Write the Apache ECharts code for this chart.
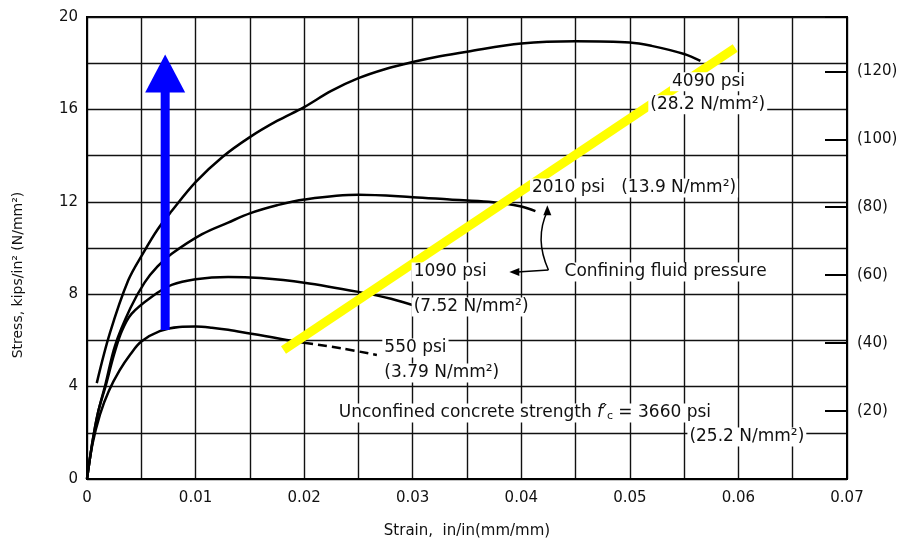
<!DOCTYPE html>
<html>
<head>
<meta charset="utf-8">
<script src="https://cdn.jsdelivr.net/npm/echarts@6/dist/echarts.min.js"></script>
<style>
  html, body { margin: 0; background: #fff; }
  #chart { width: 914px; height: 546px; }
</style>
</head>
<body>
<div id="chart"></div>
<script>
// axis labels
const strainLabels = [0, 0.01, 0.02, 0.03, 0.04, 0.05, 0.06, 0.07];
const stressLabels = [0, 4, 8, 12, 16, 20];
const mpaLabels = [20, 40, 60, 80, 100, 120];
const MPA_AXIS_MAX = 136; // right-hand scale as printed on the figure

// stress-strain curves [strain, ksi]
const curve4090 = [[0.0009, 4.15], [0.0021, 6.3], [0.0038, 8.6], [0.0052, 9.8], [0.0065, 10.8],
  [0.0078, 11.6], [0.01, 12.85], [0.0125, 13.95], [0.015, 14.8], [0.0175, 15.5], [0.02, 16.1],
  [0.0225, 16.8], [0.025, 17.35], [0.0275, 17.75], [0.03, 18.05], [0.0325, 18.3], [0.035, 18.5],
  [0.04, 18.85], [0.045, 18.95], [0.05, 18.9], [0.052, 18.75], [0.055, 18.4], [0.0565, 18.1]];
const curve2010 = [[0, 0], [0.0005, 1.6], [0.001, 2.85], [0.0017, 4.1], [0.0026, 5.8], [0.004, 7.4],
  [0.0053, 8.5], [0.0065, 9.2], [0.0078, 9.75], [0.0106, 10.6], [0.013, 11.1], [0.015, 11.5],
  [0.0175, 11.85], [0.02, 12.1], [0.025, 12.3], [0.03, 12.2], [0.0334, 12.1], [0.037, 12.0],
  [0.04, 11.8], [0.0413, 11.6]];
const curve1090 = [[0, 0], [0.0005, 1.6], [0.001, 2.85], [0.0017, 4.0], [0.0025, 5.4], [0.0032, 6.4],
  [0.0041, 7.15], [0.006, 7.9], [0.0078, 8.4], [0.01, 8.65], [0.013, 8.75], [0.016, 8.7],
  [0.02, 8.5], [0.025, 8.1], [0.028, 7.8], [0.0305, 7.45]];
const curve550 = [[0, 0], [0.0005, 1.5], [0.0012, 2.8], [0.002, 3.8], [0.003, 4.7], [0.004, 5.4],
  [0.005, 5.95], [0.0067, 6.4], [0.0085, 6.58], [0.01, 6.6], [0.0115, 6.55], [0.013, 6.46],
  [0.015, 6.3], [0.0165, 6.18], [0.018, 6.05], [0.02, 5.9]];
const curve550Dashed = [[0.02, 5.9], [0.0235, 5.65], [0.0267, 5.37]];

// overlays
const blueShaft = [[0.0072, 6.45], [0.0072, 16.9]];
const blueHead = [[0.0072, 17.55]];
const yellowLine = [[0.0181, 5.58], [0.0597, 18.66]];

// annotation text anchors [strain, ksi]
const notes = [
  { text: '4090 psi', at: [0.0537, 17.2] },
  { text: '(28.2 N/mm²)', at: [0.0517, 16.2] },
  { text: '2010 psi   (13.9 N/mm²)', at: [0.0408, 12.6] },
  { text: 'Confining fluid pressure', at: [0.0438, 8.96] },
  { text: '1090 psi', at: [0.0299, 8.96] },
  { text: '(7.52 N/mm²)', at: [0.0299, 7.45] },
  { text: '550 psi', at: [0.0272, 5.67] },
  { text: '(3.79 N/mm²)', at: [0.0272, 4.59] },
  { text: 'Unconfined concrete strength {it|f′}{sub|c} = 3660 psi', at: [0.0230, 2.86] },
  { text: '(25.2 N/mm²)', at: [0.0553, 1.82] }
];
const arrowJoin = [0.0425, 9.05];
const arrowUpTip = [0.0424, 11.85];
const arrowCtrl = [0.0412, 10.4];
const arrowLeftTip = [0.0389, 8.96];

const font = '"DejaVu Sans", Verdana, sans-serif';
const chart = echarts.init(document.getElementById('chart'));

function curve(data, dashed) {
  return {
    type: 'line', data: data, symbol: 'none', smooth: 0.35, z: 3,
    lineStyle: { color: '#000', width: 2.5, type: dashed ? [9, 5] : 'solid' }
  };
}

chart.setOption({
  animation: false,
  backgroundColor: '#fff',
  grid: { left: 87, right: 67, top: 17, bottom: 67, show: true, borderColor: '#000', borderWidth: 2 },
  xAxis: {
    type: 'value', min: 0, max: 0.07, interval: 0.005,
    axisLine: { lineStyle: { color: '#000', width: 2 } },
    axisTick: { show: false },
    splitLine: { lineStyle: { color: '#111', width: 1.4 } },
    axisLabel: {
      color: '#111', fontSize: 15, fontFamily: font, margin: 12,
      formatter: (v) => {
        const k = Math.round(v * 1000);
        if (k % 10 !== 0) return '';
        return k === 0 ? '0' : (k / 1000).toFixed(2);
      }
    },
    name: 'Strain,  in/in(mm/mm)', nameLocation: 'middle', nameGap: 45,
    nameTextStyle: { color: '#111', fontSize: 15, fontFamily: font }
  },
  yAxis: [
    {
      type: 'value', min: 0, max: 20, interval: 2,
      axisLine: { show: true, lineStyle: { color: '#000', width: 2 } },
      axisTick: { show: false },
      splitLine: { lineStyle: { color: '#111', width: 1.4 } },
      axisLabel: {
        color: '#111', fontSize: 15, fontFamily: font, margin: 9,
        formatter: (v) => stressLabels.includes(v) ? String(v) : ''
      }
    },
    {
      type: 'value', position: 'right', min: 0, max: MPA_AXIS_MAX, interval: 20,
      axisLine: { show: true, lineStyle: { color: '#000', width: 2 } },
      axisTick: { show: true, inside: true, length: 22, lineStyle: { color: '#000', width: 2 } },
      splitLine: { show: false },
      axisLabel: {
        color: '#111', fontSize: 15, fontFamily: font, margin: 10,
        formatter: (v) => mpaLabels.includes(v) ? '(' + v + ')' : ''
      }
    }
  ],
  series: [
    curve(curve4090),
    curve(curve2010),
    curve(curve1090),
    curve(curve550),
    curve(curve550Dashed, true),
    {
      type: 'line', data: blueShaft, symbol: 'none', z: 5,
      lineStyle: { color: '#0000ff', width: 9, cap: 'butt' }
    },
    {
      type: 'scatter', data: blueHead, symbol: 'triangle', symbolSize: [40, 38], z: 5,
      itemStyle: { color: '#0000ff', opacity: 1 }
    },
    {
      type: 'line', data: yellowLine, symbol: 'none', z: 6,
      lineStyle: { color: '#ffff00', width: 9, cap: 'butt' }
    }
  ]
});

// annotations placed through the chart's own scale
const px = (p) => chart.convertToPixel({ seriesIndex: 0 }, p);
const graphics = notes.map((n) => {
  const p = px(n.at);
  return {
    type: 'text', x: p[0], y: p[1], z: 10,
    style: {
      text: n.text, fill: '#111', font: '17px ' + font,
      verticalAlign: 'middle', align: 'left',
      backgroundColor: '#fff', padding: [1, 2],
      rich: {
        it: { fontStyle: 'italic', fontSize: 17, fontFamily: font, fill: '#111' },
        sub: { fontSize: 11, fontFamily: font, fill: '#111', verticalAlign: 'bottom', padding: [6, 0, 0, 0] }
      }
    }
  };
});

const j = px(arrowJoin), up = px(arrowUpTip), c = px(arrowCtrl), lt = px(arrowLeftTip);
graphics.push(
  { type: 'bezierCurve', z: 11, shape: { x1: j[0], y1: j[1], x2: up[0], y2: up[1] + 6, cpx1: c[0], cpy1: c[1] },
    style: { stroke: '#000', lineWidth: 1.5, fill: null } },
  { type: 'polygon', z: 11, shape: { points: [[up[0], up[1]], [up[0] - 4, up[1] + 10], [up[0] + 4, up[1] + 10]] },
    style: { fill: '#000' } },
  { type: 'line', z: 11, shape: { x1: j[0], y1: j[1], x2: lt[0] + 8, y2: lt[1] },
    style: { stroke: '#000', lineWidth: 1.5 } },
  { type: 'polygon', z: 11, shape: { points: [[lt[0], lt[1]], [lt[0] + 10, lt[1] - 4], [lt[0] + 10, lt[1] + 4]] },
    style: { fill: '#000' } },
  { type: 'text', x: 18, y: 275, rotation: Math.PI / 2, z: 11,
    style: { text: 'Stress, kips/in² (N/mm²)', fill: '#111', font: '14px ' + font, align: 'center', verticalAlign: 'middle' } }
);
chart.setOption({ graphic: graphics });
</script>
</body>
</html>
